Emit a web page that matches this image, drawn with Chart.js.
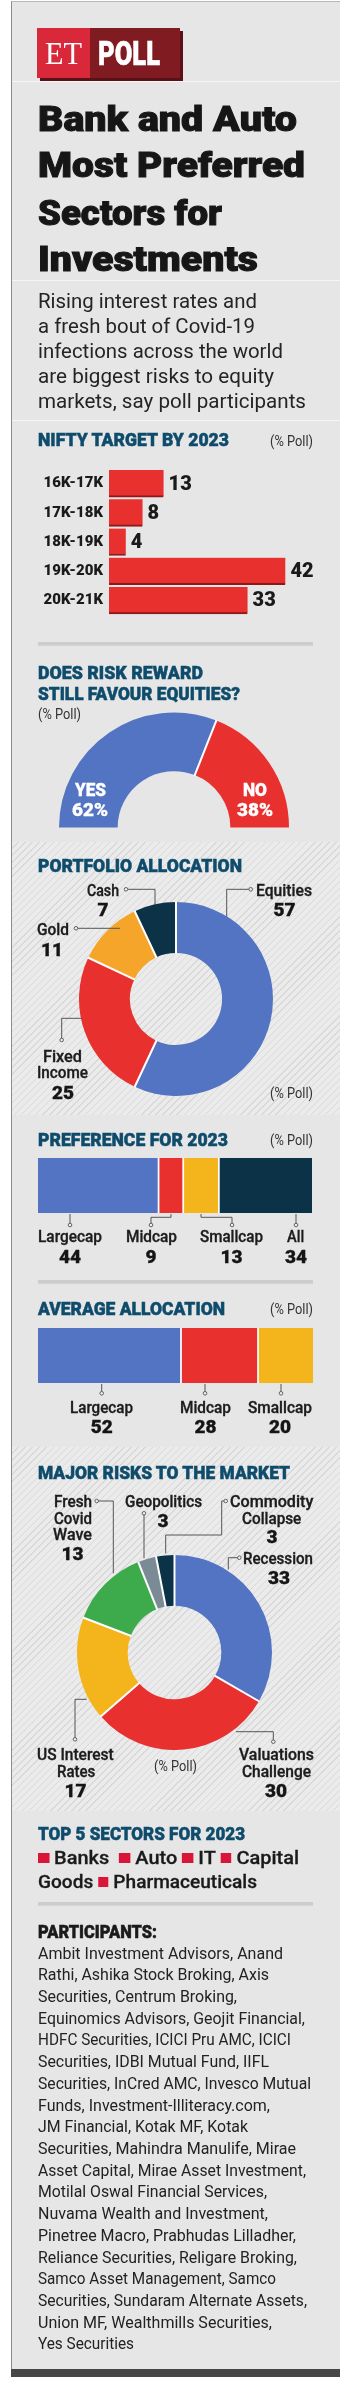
<!DOCTYPE html>
<html><head><meta charset="utf-8">
<script src="https://cdn.jsdelivr.net/npm/chart.js@4.4.0/dist/chart.umd.min.js"></script>
<style>
html,body{margin:0;padding:0;background:#fff;}
body{width:356px;height:2388px;position:relative;overflow:hidden;font-family:Roboto,'Open Sans',sans-serif;}
.t{position:absolute;white-space:nowrap;line-height:1;transform-origin:0 50%;left:0;top:0;z-index:5;}
canvas{position:absolute;z-index:2;}
.panel{position:absolute;left:11px;top:1px;width:329px;height:2368px;background:#e6e6e6;border-left:1px solid #8c8c8c;border-top:1px solid #b8b8b8;box-sizing:border-box;}
.hatch{position:absolute;left:12px;width:328px;background-color:#ebebeb;background-image:repeating-linear-gradient(135deg,rgba(0,0,0,0) 0px,rgba(0,0,0,0) 4px,#d9d9d9 4px,#d9d9d9 5px);}
.thin{position:absolute;left:12px;width:328px;height:1px;background:#f6f6f6;}
.sep{position:absolute;left:38px;width:275px;height:3px;background:#cdcdcd;box-shadow:0 1px 1px rgba(0,0,0,0.08);}
.bottom{position:absolute;left:11px;top:2369px;width:329px;height:8px;background:#474747;}
.logo{position:absolute;left:37px;top:28px;width:143px;height:50px;box-shadow:3px 3px 0 #5a1016;}
.logo .et{position:absolute;left:0;top:0;width:53px;height:50px;background:#d8283a;}
.logo .poll{position:absolute;left:53px;top:0;width:90px;height:50px;background:#7f1b21;}
.sq{display:inline-block;width:0.56em;height:0.52em;background:#d9163a;vertical-align:0.02em;-webkit-text-stroke:0;}
svg{position:absolute;left:0;top:0;z-index:4;}
</style>
</head>
<body>
<div class="panel"></div>
<div class="hatch" style="top:842px;height:273px;"></div>
<div class="hatch" style="top:1447px;height:364px;"></div>
<div class="thin" style="top:81px"></div>
<div class="thin" style="top:280px"></div>
<div class="thin" style="top:420px"></div>
<div class="sep" style="top:642px"></div>
<div class="sep" style="top:1280px"></div>
<div class="sep" style="top:1902px"></div>
<div class="bottom"></div>
<div class="logo"><div class="et"></div><div class="poll"></div></div>

<canvas id="nifty" width="320" height="176" style="left:20px;top:454px"></canvas>
<canvas id="half" width="230" height="116" style="left:59px;top:712px"></canvas>
<canvas id="portfolio" width="194" height="194" style="left:79px;top:902px"></canvas>
<canvas id="pref" width="274" height="55" style="left:38px;top:1158px"></canvas>
<canvas id="avg" width="275" height="55" style="left:38px;top:1328px"></canvas>
<canvas id="risks" width="195" height="195" style="left:77px;top:1555px"></canvas>
<svg id="lead" width="356" height="2388"></svg>

<script>
// ---------- DATA ----------
const niftyLabels = ['16K-17K', '17K-18K', '18K-19K', '19K-20K', '20K-21K'];
const niftyValues = [13, 8, 4, 42, 33];

const riskRewardLabels = ['YES', 'NO'];
const riskRewardValues = [62, 38];

const portfolioLabels = ['Equities', 'Fixed\nIncome', 'Gold', 'Cash'];
const portfolioValues = [57, 25, 11, 7];

const preferenceLabels = ['Largecap', 'Midcap', 'Smallcap', 'All'];
const preferenceValues = [44, 9, 13, 34];

const averageLabels = ['Largecap', 'Midcap', 'Smallcap'];
const averageValues = [52, 28, 20];

const riskLabels = ['Recession', 'Valuations\nChallenge', 'US Interest\nRates', 'Fresh\nCovid\nWave', 'Geopolitics', 'Commodity\nCollapse'];
const riskValues = [33, 30, 17, 13, 3, 3];

const topSectors = ['Banks', 'Auto', 'IT', 'Capital Goods', 'Pharmaceuticals'];

// ---------- COLOURS ----------
const BLUE = '#5374c3', RED = '#e8302f', ORANGE = '#f5a62a', YELLOW = '#f3b51b',
      NAVY = '#0c3247', GREEN = '#3daa4b', GRAY = '#7b8b95', TEAL = '#0f4c6c';

// ---------- TEXT HELPER ----------
function txt(s, x, cy, size, o = {}) {
  const d = document.createElement('div');
  d.className = 't';
  d.innerHTML = s;
  d.style.fontSize = size + 'px';
  d.style.fontWeight = o.weight || 400;
  d.style.color = o.color || '#1c1c1c';
  if (o.stroke) d.style.webkitTextStroke = o.stroke + 'px ' + (o.color || '#1c1c1c');
  if (o.family) d.style.fontFamily = o.family;
  document.body.appendChild(d);
  const w0 = d.getBoundingClientRect().width;
  const sc = o.w ? o.w / w0 : (o.scale || 1);
  const sw = w0 * sc;
  let left = x;
  if (o.align === 'center') left = x - sw / 2;
  else if (o.align === 'right') left = x - sw;
  d.style.left = left + 'px';
  d.style.top = (cy - size * 0.5) + 'px';
  d.style.transform = 'scaleX(' + sc + ')';
  return d;
}

// logo
txt('ET', 63.5, 53, 31, {align: 'center', color: '#fff', family: "'Liberation Serif','DejaVu Serif',serif", w: 37});
txt('POLL', 129, 53, 34, {align: 'center', color: '#fff', weight: 900, w: 62, stroke: 0.6});

// headline
[['Bank and Auto', 119.5, 259], ['Most Preferred', 165, 267], ['Sectors for', 213, 184], ['Investments', 259.5, 220]]
  .forEach(([s, cy, w]) => txt(s, 38, cy, 35, {weight: 900, color: '#161616', w, stroke: 1}));

// subtitle
[['Rising interest rates and', 219], ['a fresh bout of Covid-19', 217], ['infections across the world', 245],
 ['are biggest risks to equity', 236], ['markets, say poll participants', 268]]
  .forEach(([s, w], i) => txt(s, 38, 301.5 + i * 25, 21, {color: '#242424', w}));

// section headings
function head(s, cy, w, color) { txt(s, 38, cy, 19, {weight: 900, color: color || TEAL, w, stroke: 0.5}); }
head('NIFTY TARGET BY 2023', 439, 191);
head('DOES RISK REWARD', 672.5, 165);
head('STILL FAVOUR EQUITIES?', 693.5, 202);
head('PORTFOLIO ALLOCATION', 865, 204);
head('PREFERENCE FOR 2023', 1139.5, 190);
head('AVERAGE ALLOCATION', 1308.3, 187);
head('MAJOR RISKS TO THE MARKET', 1472.7, 252);
head('TOP 5 SECTORS FOR 2023', 1833.3, 207);
head('PARTICIPANTS:', 1931.7, 119, '#1a1a1a');

function poll(x, cy, align) { txt('(% Poll)', x, cy, 14, {color: '#333', w: 43, align}); }
poll(313, 440.5, 'right');
poll(38, 714, 'left');
poll(313, 1093, 'right');
poll(313, 1140, 'right');
poll(313, 1308.5, 'right');
poll(175, 1766, 'center');

// ---------- CHARTS ----------
const common = {
  responsive: false, animation: false, events: [], devicePixelRatio: 1,
  layout: {padding: 0},
  plugins: {legend: {display: false}, tooltip: {enabled: false}}
};

// value labels at bar ends
const endLabels = {
  id: 'endLabels',
  afterDatasetsDraw(chart) {
    const ctx = chart.ctx, meta = chart.getDatasetMeta(0);
    ctx.save();
    ctx.font = '900 20px Roboto';
    ctx.fillStyle = '#1a1a1a';
    ctx.textBaseline = 'middle';
    meta.data.forEach((bar, i) => ctx.fillText(String(chart.data.datasets[0].data[i]), bar.x + 5, bar.y + 1));
    ctx.restore();
  }
};

new Chart(document.getElementById('nifty'), {
  type: 'bar',
  data: {labels: niftyLabels, datasets: [{
    data: niftyValues, backgroundColor: RED, borderColor: '#8e1717',
    borderWidth: {top: 0, left: 0, right: 0, bottom: 2}, borderSkipped: false, barThickness: 27
  }]},
  options: {...common, indexAxis: 'y',
    scales: {
      x: {display: false, min: 0, max: 55},
      y: {afterFit: s => { s.width = 89; }, grid: {display: false, drawTicks: false}, border: {display: false},
          ticks: {padding: 6, color: '#1a1a1a', font: {family: 'Roboto', weight: '900', size: 15}}}
    }},
  plugins: [endLabels]
});

// white separators between arcs
const arcSeparators = {
  id: 'arcSeparators',
  afterDatasetsDraw(chart, args, opts) {
    const ctx = chart.ctx;
    ctx.save();
    ctx.strokeStyle = '#ffffff';
    ctx.lineWidth = opts.width || 2;
    chart.getDatasetMeta(0).data.forEach((arc, i) => {
      if (opts.skipFirst && i === 0) return;
      const a = arc.startAngle;
      ctx.beginPath();
      ctx.moveTo(arc.x + Math.cos(a) * (arc.innerRadius - 0.5), arc.y + Math.sin(a) * (arc.innerRadius - 0.5));
      ctx.lineTo(arc.x + Math.cos(a) * (arc.outerRadius + 0.5), arc.y + Math.sin(a) * (arc.outerRadius + 0.5));
      ctx.stroke();
    });
    ctx.restore();
  }
};

function donut(id, labels, values, colors, cutout, extra, sepOpts) {
  new Chart(document.getElementById(id), {
    type: 'doughnut',
    data: {labels, datasets: [{data: values, backgroundColor: colors, borderWidth: 0}]},
    options: {...common, cutout, ...extra, plugins: {...common.plugins, arcSeparators: sepOpts}},
    plugins: [arcSeparators]
  });
}
donut('half', riskRewardLabels, riskRewardValues, [BLUE, RED], '49%', {rotation: -90, circumference: 180}, {skipFirst: true, width: 2});
donut('portfolio', portfolioLabels, portfolioValues, [BLUE, RED, ORANGE, NAVY], '47.5%', {}, {width: 2});
donut('risks', riskLabels, riskValues, [BLUE, RED, YELLOW, GREEN, GRAY, NAVY], '48%', {}, {width: 2});

function stackBar(id, labels, values, colors) {
  const n = values.length;
  new Chart(document.getElementById(id), {
    type: 'bar',
    data: {labels: [''], datasets: values.map((v, i) => ({
      label: labels[i], data: [v], backgroundColor: colors[i], borderColor: '#ffffff',
      borderWidth: {top: 0, bottom: 0, left: i > 0 ? 1.2 : 0, right: i < n - 1 ? 1.2 : 0},
      borderSkipped: false, barPercentage: 1, categoryPercentage: 1
    }))},
    options: {...common, indexAxis: 'y',
      scales: {x: {stacked: true, display: false, min: 0, max: 100}, y: {stacked: true, display: false}}}
  });
}
stackBar('pref', preferenceLabels, preferenceValues, [BLUE, RED, YELLOW, NAVY]);
stackBar('avg', averageLabels, averageValues, [BLUE, RED, YELLOW]);

// ---------- LABELS ----------
// half donut
txt(riskRewardLabels[0], 90.5, 790, 18, {align: 'center', weight: 900, color: '#fff', w: 31, stroke: 0.3});
txt(riskRewardValues[0] + '%', 90, 810, 18, {align: 'center', weight: 900, color: '#fff', w: 36, stroke: 0.3});
txt(riskRewardLabels[1], 255, 790, 18, {align: 'center', weight: 900, color: '#fff', w: 24, stroke: 0.3});
txt(riskRewardValues[1] + '%', 255, 810, 18, {align: 'center', weight: 900, color: '#fff', w: 36, stroke: 0.3});

function block(name, value, L) {
  name.split('\n').forEach((ln, i) =>
    txt(ln, L.cx, L.ys[i], 17, {align: 'center', weight: 500, color: '#1c1c1c', w: L.ws ? L.ws[i] : null, scale: 0.86, stroke: 0.35}));
  txt(String(value), L.vcx || L.cx, L.vy, 19, {align: 'center', weight: 900, color: '#151515', stroke: 0.3});
}

const portfolioLayout = [
  {cx: 284, ys: [890], ws: [56], vy: 909.5, vcx: 284.5},
  {cx: 62.5, ys: [1056, 1072.5], ws: [39, 51], vy: 1092, vcx: 63},
  {cx: 53, ys: [929], ws: [32], vy: 949, vcx: 52},
  {cx: 103, ys: [890], ws: [32], vy: 909.5}
];
portfolioLabels.forEach((l, i) => block(l, portfolioValues[i], portfolioLayout[i]));

const prefLayout = [
  {cx: 70, ys: [1236.7], ws: [64], vy: 1256},
  {cx: 151.5, ys: [1236.7], ws: [51], vy: 1256, vcx: 151},
  {cx: 231.5, ys: [1236.7], ws: [63], vy: 1256},
  {cx: 296, ys: [1236.7], ws: null, vy: 1256}
];
preferenceLabels.forEach((l, i) => block(l, preferenceValues[i], prefLayout[i]));

const avgLayout = [
  {cx: 101.7, ys: [1407], ws: [63], vy: 1426.3},
  {cx: 205.3, ys: [1407], ws: [51], vy: 1426.3, vcx: 205.5},
  {cx: 280.3, ys: [1407], ws: [64], vy: 1426.3, vcx: 280}
];
averageLabels.forEach((l, i) => block(l, averageValues[i], avgLayout[i]));

const riskLayout = [
  {cx: 278.3, ys: [1558], ws: [70], vy: 1577, vcx: 279},
  {cx: 276, ys: [1754.7, 1771.3], ws: [75, 69], vy: 1790.5},
  {cx: 75.7, ys: [1754.7, 1771.3], ws: [76.7, 38.3], vy: 1790.5, vcx: 75.5},
  {cx: 72.5, ys: [1501.3, 1518, 1534.7], ws: [38, 38, 39], vy: 1553},
  {cx: 163.7, ys: [1501.3], ws: [77], vy: 1520.5, vcx: 163},
  {cx: 271.8, ys: [1501.3, 1518], ws: [83.3, 59.3], vy: 1536, vcx: 272}
];
riskLabels.forEach((l, i) => block(l, riskValues[i], riskLayout[i]));

// ---------- LEADER LINES ----------
const leaders = [
  // portfolio
  [[126, 889.3], [155, 889.3], [155, 905]],
  [[250.7, 889.3], [226.7, 889.3], [226.7, 916.7]],
  [[76, 928.3], [120, 928.3]],
  [[61.7, 1040], [61.7, 1018.3], [81.7, 1018.3]],
  // preference
  [[70, 1225], [70, 1214]],
  [[151, 1225], [151, 1217.3], [171, 1217.3], [171, 1214]],
  [[232, 1225], [232, 1217.3], [201, 1217.3], [201, 1214]],
  [[296, 1225], [296, 1214]],
  // average
  [[101.7, 1393.3], [101.7, 1384]],
  [[205, 1393.3], [205, 1384]],
  [[281, 1393.3], [281, 1384]],
  // risks
  [[96.7, 1501], [113.3, 1501], [113.3, 1573.3]],
  [[144, 1513.3], [144, 1558.3]],
  [[225.7, 1501], [221.7, 1501], [221.7, 1535], [165.7, 1535], [165.7, 1553.3]],
  [[239.3, 1557.7], [228.3, 1557.7], [228.3, 1569.3]],
  [[75, 1739.3], [75, 1699.3], [86.7, 1699.3]],
  [[273.3, 1741.7], [273.3, 1731.7], [236, 1731.7]]
];
const svg = document.getElementById('lead');
let html = '';
leaders.forEach(p => {
  html += '<polyline points="' + p.map(q => q.join(',')).join(' ') + '" fill="none" stroke="#555" stroke-width="1"/>';
  html += '<circle cx="' + p[0][0] + '" cy="' + p[0][1] + '" r="1.8" fill="#eeeeee" stroke="#555" stroke-width="0.9"/>';
});
svg.innerHTML = html;

// ---------- TOP SECTORS ----------
const SQ = '<span class="sq"></span>';
const cg = topSectors[3].split(' ');
txt(SQ + ' ' + topSectors[0] + '&nbsp; ' + SQ + ' ' + topSectors[1] + ' ' + SQ + ' ' + topSectors[2] + ' ' + SQ + ' ' + cg[0],
    38, 1857, 19, {weight: 500, color: '#1a1a1a', w: 261, stroke: 0.3});
txt(cg[1] + ' ' + SQ + ' ' + topSectors[4], 38, 1881, 19, {weight: 500, color: '#1a1a1a', w: 219, stroke: 0.3});

// ---------- PARTICIPANTS ----------
const participantLines = [
  ['Ambit Investment Advisors, Anand', 245], ['Rathi, Ashika Stock Broking, Axis', 231],
  ['Securities, Centrum Broking,', 199], ['Equinomics Advisors, Geojit Financial,', 267],
  ['HDFC Securities, ICICI Pru AMC, ICICI', 253], ['Securities, IDBI Mutual Fund, IIFL', 231],
  ['Securities, InCred AMC, Invesco Mutual', 273], ['Funds, Investment-Illiteracy.com,', 232],
  ['JM Financial, Kotak MF, Kotak', 210], ['Securities, Mahindra Manulife, Mirae', 258],
  ['Asset Capital, Mirae Asset Investment,', 268], ['Motilal Oswal Financial Services,', 229],
  ['Nuvama Wealth and Investment,', 230], ['Pinetree Macro, Prabhudas Lilladher,', 258],
  ['Reliance Securities, Religare Broking,', 259], ['Samco Asset Management, Samco', 238],
  ['Securities, Sundaram Alternate Assets,', 269], ['Union MF, Wealthmills Securities,', 234],
  ['Yes Securities', 96]
];
participantLines.forEach(([s, w], i) => txt(s, 38, 1953 + i * 21.72, 17, {color: '#222', w}));
</script>
</body></html>
